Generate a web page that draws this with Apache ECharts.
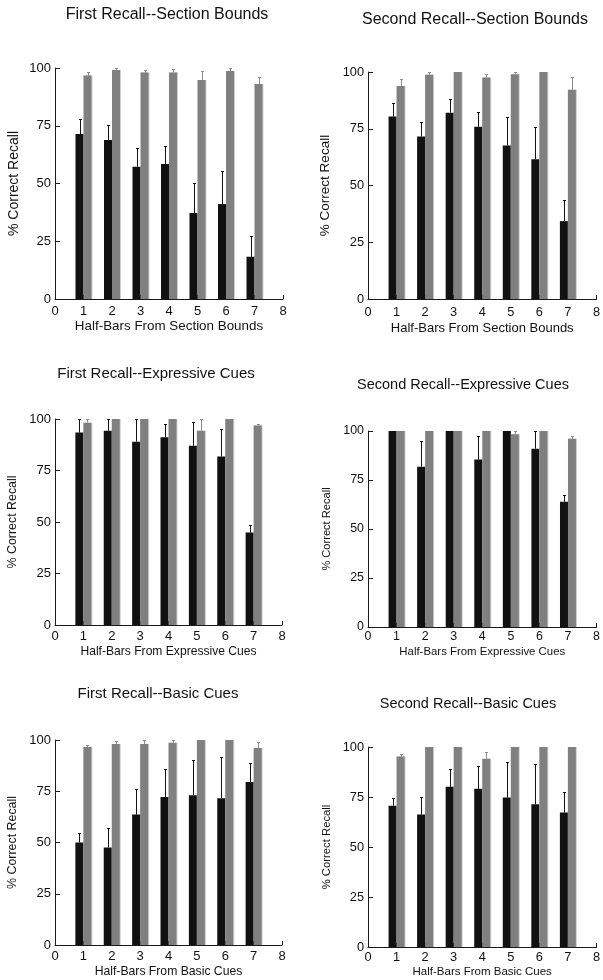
<!DOCTYPE html>
<html>
<head>
<meta charset="utf-8">
<script src="https://cdn.jsdelivr.net/npm/echarts@6/dist/echarts.min.js"></script>
<style>
html,body{margin:0;padding:0;background:#fff;}
#chart{width:603px;height:980px;}
</style>
</head>
<body>
<div id="chart"></div>
<script>
// ---------- data ----------
const halfBars = [1, 2, 3, 4, 5, 6, 7];
const xTicks = [0, 1, 2, 3, 4, 5, 6, 7, 8];
const yTicks = [0, 25, 50, 75, 100];

const titles = [
  'First Recall--Section Bounds', 'Second Recall--Section Bounds',
  'First Recall--Expressive Cues', 'Second Recall--Expressive Cues',
  'First Recall--Basic Cues', 'Second Recall--Basic Cues'
];
const xNames = [
  'Half-Bars From Section Bounds', 'Half-Bars From Section Bounds',
  'Half-Bars From Expressive Cues', 'Half-Bars From Expressive Cues',
  'Half-Bars From Basic Cues', 'Half-Bars From Basic Cues'
];
const yName = '% Correct Recall';

// First Recall -- Section Bounds
const firstSectionDark = [71.4, 68.8, 57.3, 58.4, 37.2, 41.1, 18.3];
const firstSectionDarkErr = [6.4, 6.5, 7.9, 7.8, 12.9, 14.3, 8.8];
const firstSectionLight = [96.7, 99.1, 98.0, 98.1, 94.8, 98.7, 93.1];
const firstSectionLightErr = [1.6, 0.9, 1.1, 1.5, 3.8, 1.3, 3.1];

// Second Recall -- Section Bounds
const secondSectionDark = [80.4, 71.6, 82.1, 75.9, 67.6, 61.6, 34.3];
const secondSectionDarkErr = [5.9, 6.3, 6.1, 6.5, 12.7, 14.1, 9.5];
const secondSectionLight = [93.8, 98.8, 100, 97.6, 99.0, 100, 92.2];
const secondSectionLightErr = [3.3, 1.2, 0, 1.5, 1.0, 0, 5.4];

// First Recall -- Expressive Cues
const firstExpressiveDark = [93.4, 94.3, 89.0, 91.1, 87.0, 81.8, 44.9];
const firstExpressiveDarkErr = [6.6, 5.7, 11.0, 6.5, 11.7, 13.2, 3.6];
const firstExpressiveLight = [98.2, 100, 100, 100, 94.3, 100, 96.8];
const firstExpressiveLightErr = [1.8, 0, 0, 0, 5.7, 0, 0.8];

// Second Recall -- Expressive Cues
const secondExpressiveDark = [100, 81.8, 100, 85.4, 100, 91.0, 63.9];
const secondExpressiveDarkErr = [0, 12.9, 0, 11.9, 0, 9.0, 3.4];
const secondExpressiveLight = [100, 100, 100, 100, 98.3, 100, 96.1];
const secondExpressiveLightErr = [0, 0, 0, 0, 1.7, 0, 1.3];

// First Recall -- Basic Cues
const firstBasicDark = [50.0, 47.6, 63.6, 72.2, 73.1, 71.6, 79.5];
const firstBasicDarkErr = [4.4, 9.5, 12.5, 13.5, 17.0, 20.0, 9.1];
const firstBasicLight = [96.6, 98.1, 98.1, 98.7, 100, 100, 96.1];
const firstBasicLightErr = [1.1, 1.3, 1.9, 1.3, 0, 0, 2.9];

// Second Recall -- Basic Cues
const secondBasicDark = [70.6, 66.2, 80.1, 79.1, 74.7, 71.4, 67.2];
const secondBasicDarkErr = [3.8, 8.7, 8.7, 11.4, 17.8, 20.1, 10.2];
const secondBasicLight = [95.2, 100, 100, 94.1, 100, 100, 100];
const secondBasicLightErr = [1.5, 0, 0, 3.4, 0, 0, 0];

const panelData = [
  [firstSectionDark, firstSectionDarkErr, firstSectionLight, firstSectionLightErr],
  [secondSectionDark, secondSectionDarkErr, secondSectionLight, secondSectionLightErr],
  [firstExpressiveDark, firstExpressiveDarkErr, firstExpressiveLight, firstExpressiveLightErr],
  [secondExpressiveDark, secondExpressiveDarkErr, secondExpressiveLight, secondExpressiveLightErr],
  [firstBasicDark, firstBasicDarkErr, firstBasicLight, firstBasicLightErr],
  [secondBasicDark, secondBasicDarkErr, secondBasicLight, secondBasicLightErr]
];

// ---------- layout / style ----------
const FONT = '"Liberation Sans", Arial, Helvetica, sans-serif';
const BAR_W = 8;
const DARK = '#111111';
const LIGHT = '#808080';
const AXIS = '#1a1a1a';

const layout = [
  {grid: {left: 55, top: 68, width: 228, height: 231}, tx: 167, ty: 7, ts: 16, lab: 13, xn: 13.4, yn: 14, xm: 6, xg: 21, yg: 34},
  {grid: {left: 368, top: 72, width: 229, height: 227}, tx: 475, ty: 12, ts: 16, lab: 12.8, xn: 13, yn: 13.5, xm: 7, xg: 23, yg: 36},
  {grid: {left: 55, top: 419, width: 227, height: 206}, tx: 156, ty: 366, ts: 15, lab: 13, xn: 12.1, yn: 12.4, xm: 5, xg: 21, yg: 36},
  {grid: {left: 368, top: 431, width: 229, height: 196}, tx: 463, ty: 377, ts: 14.5, lab: 12.4, xn: 11.4, yn: 11.1, xm: 4, xg: 19, yg: 36},
  {grid: {left: 55, top: 740, width: 227, height: 205}, tx: 158, ty: 686, ts: 15, lab: 13, xn: 12.2, yn: 12.4, xm: 5, xg: 21, yg: 36},
  {grid: {left: 368, top: 747, width: 229, height: 200}, tx: 468, ty: 696, ts: 14.5, lab: 12.8, xn: 11.5, yn: 11.3, xm: 4, xg: 19, yg: 36}
];

function errRender(offset, color) {
  return function (params, api) {
    const x = api.value(0), v = api.value(1), e = api.value(2);
    if (!(e > 0)) return null;
    const a = api.coord([x, v]);
    const b = api.coord([x, v + e]);
    const cx = Math.round(a[0] + offset) + 0.5;
    const ty = Math.round(b[1]) + 0.5;
    return {
      type: 'group',
      children: [
        {type: 'line', shape: {x1: cx, y1: a[1], x2: cx, y2: ty}, style: {stroke: color, lineWidth: 1}},
        {type: 'line', shape: {x1: cx - 1.5, y1: ty, x2: cx + 1.5, y2: ty}, style: {stroke: color, lineWidth: 1}}
      ]
    };
  };
}

const option = {
  backgroundColor: '#ffffff',
  animation: false,
  title: [], grid: [], xAxis: [], yAxis: [], series: []
};

layout.forEach((L, i) => {
  option.title.push({
    text: titles[i], left: L.tx, top: L.ty, textAlign: 'center', padding: 0,
    textStyle: {fontFamily: FONT, fontSize: L.ts, fontWeight: 'normal', color: '#111'}
  });
  option.grid.push(Object.assign({containLabel: false}, L.grid));
  option.xAxis.push({
    type: 'value', gridIndex: i,
    min: xTicks[0], max: xTicks[xTicks.length - 1], interval: xTicks[1] - xTicks[0],
    name: xNames[i], nameLocation: 'middle', nameGap: L.xg,
    nameTextStyle: {fontFamily: FONT, fontSize: L.xn, color: '#111'},
    axisLine: {show: true, onZero: false, lineStyle: {color: AXIS, width: 1}},
    axisTick: {show: true, inside: true, length: 4, lineStyle: {color: AXIS}},
    axisLabel: {fontFamily: FONT, fontSize: L.lab, color: '#111', margin: L.xm, showMinLabel: true, showMaxLabel: true},
    splitLine: {show: false}
  });
  option.yAxis.push({
    type: 'value', gridIndex: i,
    min: yTicks[0], max: yTicks[yTicks.length - 1], interval: yTicks[1] - yTicks[0],
    name: yName, nameLocation: 'middle', nameGap: L.yg,
    nameTextStyle: {fontFamily: FONT, fontSize: L.yn, color: '#111'},
    axisLine: {show: true, lineStyle: {color: AXIS, width: 1}},
    axisTick: {show: true, inside: true, length: 5, lineStyle: {color: AXIS}},
    axisLabel: {fontFamily: FONT, fontSize: L.lab, color: '#111', margin: 4},
    splitLine: {show: false}
  });
  const [dark, darkErr, light, lightErr] = panelData[i];
  option.series.push({
    type: 'bar', name: 'dark', xAxisIndex: i, yAxisIndex: i,
    barWidth: BAR_W, barGap: '0%',
    itemStyle: {color: DARK},
    data: halfBars.map((h, k) => [h, dark[k]])
  });
  option.series.push({
    type: 'bar', name: 'light', xAxisIndex: i, yAxisIndex: i,
    barWidth: BAR_W, barGap: '0%',
    itemStyle: {color: LIGHT, shadowColor: '#cfcfcf', shadowOffsetX: 1, shadowBlur: 0},
    data: halfBars.map((h, k) => [h, light[k]])
  });
  option.series.push({
    type: 'custom', name: 'darkErr', xAxisIndex: i, yAxisIndex: i, z: 5,
    renderItem: errRender(-BAR_W / 2, DARK),
    encode: {x: 0, y: 1},
    data: halfBars.map((h, k) => [h, dark[k], darkErr[k]])
  });
  option.series.push({
    type: 'custom', name: 'lightErr', xAxisIndex: i, yAxisIndex: i, z: 5,
    renderItem: errRender(BAR_W / 2, '#8c8c8c'),
    encode: {x: 0, y: 1},
    data: halfBars.map((h, k) => [h, light[k], lightErr[k]])
  });
});

const chart = echarts.init(document.getElementById('chart'), null, {renderer: 'canvas'});
chart.setOption(option);
</script>
</body>
</html>
